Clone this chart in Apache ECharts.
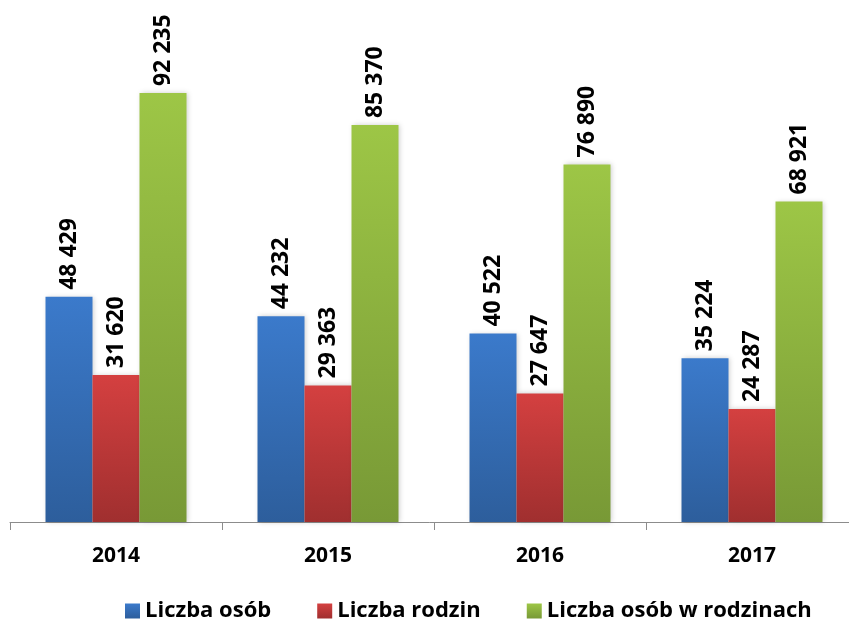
<!DOCTYPE html>
<html>
<head>
<meta charset="utf-8">
<script src="https://cdn.jsdelivr.net/npm/echarts@6/dist/echarts.min.js"></script>
<style>
  html, body { margin: 0; padding: 0; background: #fff; }
  #chart { width: 849px; height: 622px; }
</style>
</head>
<body>
<div id="chart"></div>
<script>
const years = ['2014', '2015', '2016', '2017']
const seriesNames = ['Liczba osób', 'Liczba rodzin', 'Liczba osób w rodzinach']
const osoby = [48429, 44232, 40522, 35224]
const rodziny = [31620, 29363, 27647, 24287]
const osobyWRodzinach = [92235, 85370, 76890, 68921]

const fontFamily = 'Open Sans, sans-serif'

function grad(top, bottom) {
  return new echarts.graphic.LinearGradient(0, 0, 0, 1, [
    { offset: 0, color: top },
    { offset: 1, color: bottom }
  ])
}

// 92235 -> "92 235"
function fmt(v) {
  return String(v).replace(/\B(?=(\d{3})+(?!\d))/g, ' ')
}

function makeSeries(name, data, top, bottom, legendColor) {
  return {
    name: name,
    type: 'bar',
    data: data,
    barWidth: 47,
    barGap: '0%',
    color: legendColor,
    itemStyle: {
      color: grad(top, bottom),
      shadowColor: 'rgba(0,0,0,0.2)',
      shadowBlur: 5,
      shadowOffsetX: 1
    },
    label: {
      show: true,
      position: 'top',
      rotate: 90,
      align: 'left',
      verticalAlign: 'middle',
      distance: 7,
      fontFamily: fontFamily,
      fontWeight: 'bold',
      fontSize: 23,
      color: '#000',
      formatter: p => fmt(p.value)
    }
  }
}

const chart = echarts.init(document.getElementById('chart'))
chart.setOption({
  animation: false,
  grid: {
    left: 10,
    top: 57,
    width: 848,
    height: 465,
    outerBoundsMode: 'none'
  },
  legend: {
    top: 595,
    left: 120,
    itemWidth: 15,
    itemHeight: 15,
    itemGap: 46,
    icon: 'rect',
    textStyle: {
      fontFamily: fontFamily,
      fontWeight: 'bold',
      fontSize: 22,
      color: '#000'
    },
    data: seriesNames
  },
  xAxis: {
    type: 'category',
    data: years,
    axisLine: { lineStyle: { color: '#8c8c8c', width: 1 } },
    axisTick: { show: true, length: 8, lineStyle: { color: '#8c8c8c' } },
    axisLabel: {
      margin: 24,
      fontFamily: fontFamily,
      fontWeight: 'bold',
      fontSize: 21,
      color: '#000'
    }
  },
  yAxis: {
    type: 'value',
    min: 0,
    max: 100000,
    show: false,
    splitLine: { show: false }
  },
  series: [
    makeSeries(seriesNames[0], osoby, '#3b7acb', '#2d5e9c', '#3a78c8'),
    makeSeries(seriesNames[1], rodziny, '#d44040', '#a02f2f', '#c83a3a'),
    makeSeries(seriesNames[2], osobyWRodzinach, '#9dc646', '#789936', '#8fbb44')
  ]
})
</script>
</body>
</html>
